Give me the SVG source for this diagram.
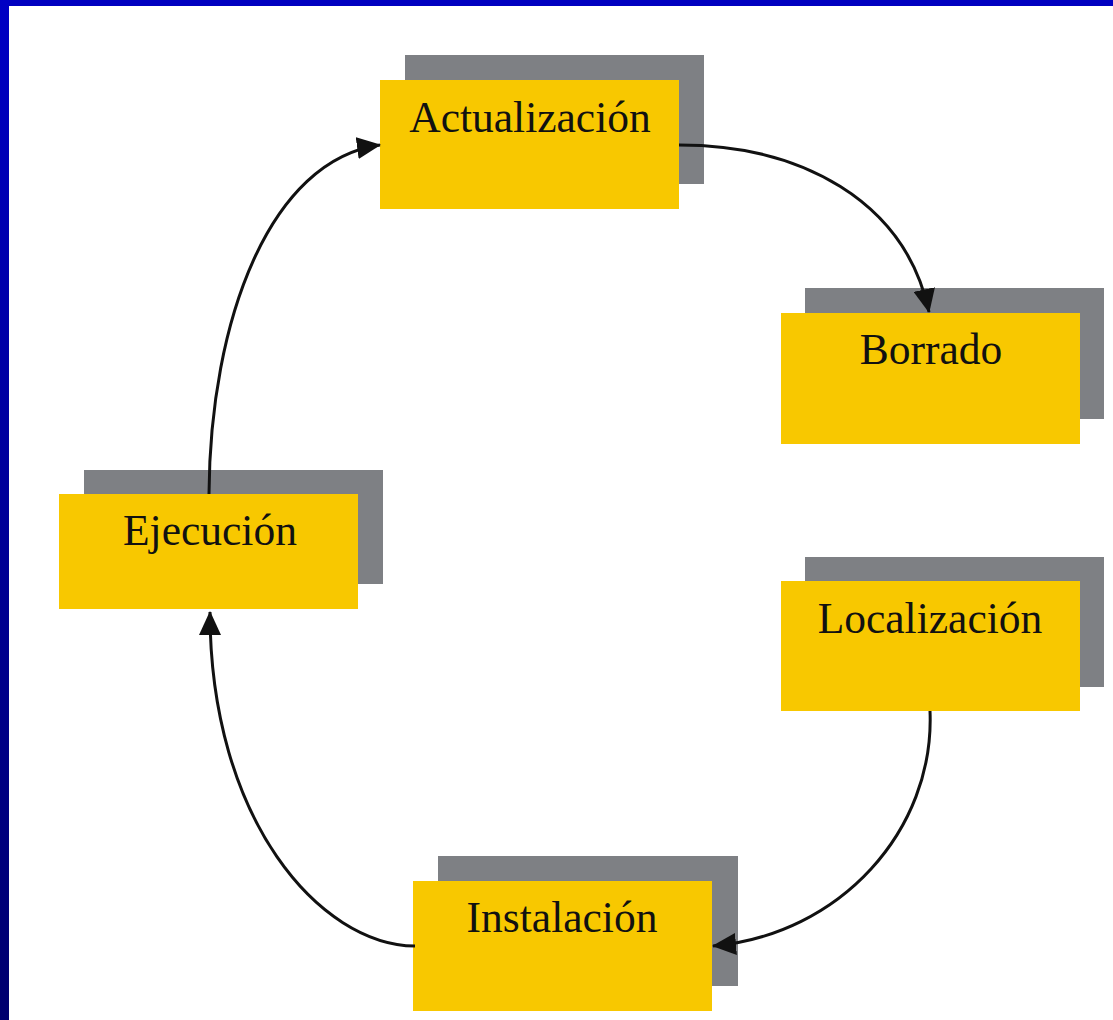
<svg xmlns="http://www.w3.org/2000/svg" width="1113" height="1020" viewBox="0 0 1113 1020">
  <defs>
    <linearGradient id="edge" x1="0" y1="0" x2="0" y2="1">
      <stop offset="0" stop-color="#0000C4"/>
      <stop offset="1" stop-color="#00006E"/>
    </linearGradient>
    <marker id="arrow" viewBox="0 0 24 22" refX="23" refY="11" markerWidth="24" markerHeight="22" markerUnits="userSpaceOnUse" orient="auto">
      <path d="M0,0 L24,11 L0,22 Z" fill="#111"/>
    </marker>
  </defs>
  <style>
    .shadow { fill: #7E8084; }
    .box { fill: #F8C800; }
    .label { font-family: "Liberation Serif", "Times New Roman", serif; font-size: 43.5px; fill: #111; text-anchor: middle; }
    .link { fill: none; stroke: #111; stroke-width: 3; marker-end: url(#arrow); }
  </style>

  <!-- page background and slide frame -->
  <rect x="0" y="0" width="1113" height="1020" fill="#FFFFFF"/>
  <rect x="0" y="0" width="1113" height="6" fill="#0000C0"/>
  <rect x="0" y="0" width="9" height="1020" fill="url(#edge)"/>

  <!-- nodes: offset gray shadow behind a yellow card -->
  <g id="actualizacion">
    <rect class="shadow" x="405" y="55" width="299" height="129"/>
    <rect class="box" x="380" y="80" width="299" height="129"/>
    <text class="label" x="530" y="132">Actualización</text>
  </g>
  <g id="borrado">
    <rect class="shadow" x="805" y="288" width="299" height="131"/>
    <rect class="box" x="781" y="313" width="299" height="131"/>
    <text class="label" x="931" y="364">Borrado</text>
  </g>
  <g id="localizacion">
    <rect class="shadow" x="805" y="557" width="299" height="130"/>
    <rect class="box" x="781" y="581" width="299" height="130"/>
    <text class="label" x="930" y="633">Localización</text>
  </g>
  <g id="instalacion">
    <rect class="shadow" x="438" y="856" width="300" height="130"/>
    <rect class="box" x="413" y="881" width="299" height="130"/>
    <text class="label" x="562" y="932">Instalación</text>
  </g>
  <g id="ejecucion">
    <rect class="shadow" x="84" y="470" width="299" height="114"/>
    <rect class="box" x="59" y="494" width="299" height="115"/>
    <text class="label" x="210" y="545">Ejecución</text>
  </g>

  <!-- connectors, drawn over the card shadows -->
  <g id="connectors">
    <path class="link" d="M679,145 C800,145 905,200 929,312"/>
    <path class="link" d="M930,711 C935,830 840,935 713,946"/>
    <path class="link" d="M415,946 C320,945 210,820 210,612"/>
    <path class="link" d="M209,494 C210,320 270,160 380,145"/>
  </g>
</svg>
